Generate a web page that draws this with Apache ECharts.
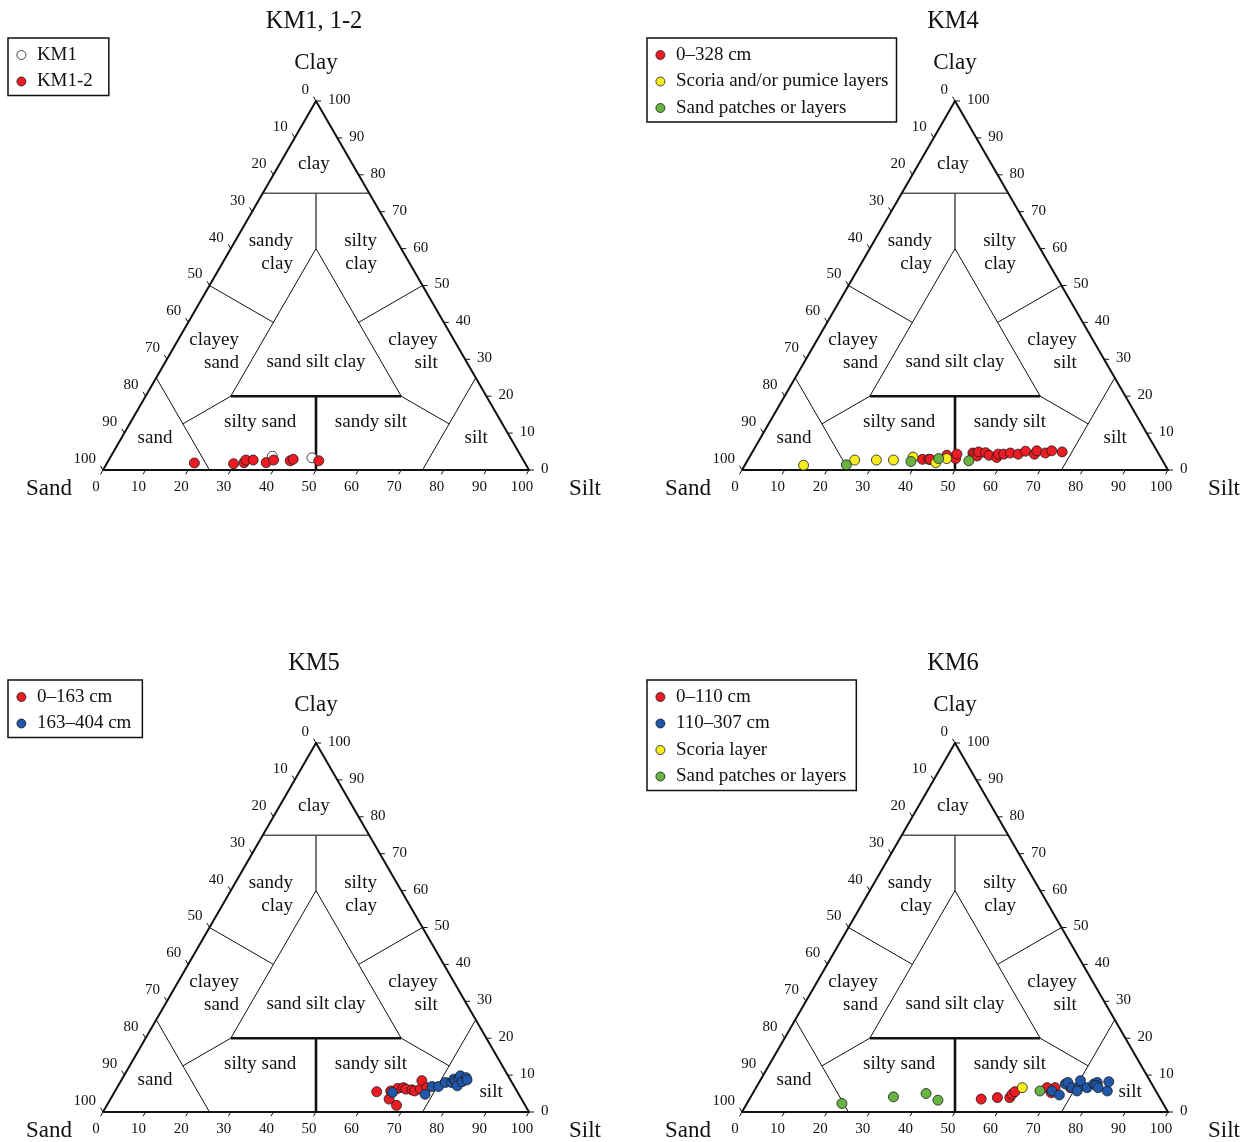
<!DOCTYPE html>
<html>
<head>
<meta charset="utf-8">
<script src="https://cdn.jsdelivr.net/npm/echarts@6/dist/echarts.min.js"></script>
<style>
  html, body { margin: 0; padding: 0; background: #fff; }
  #chart { width: 1252px; height: 1142px; }
</style>
</head>
<body>
<div id="chart"></div>
<script>
// ---- data: sediment texture, each sample as [sand, silt, clay] in percent ----
const panelTitles = ['KM1, 1-2', 'KM4', 'KM5', 'KM6'];
const tickValues = [0, 10, 20, 30, 40, 50, 60, 70, 80, 90, 100];
const vertexNames = ['Sand', 'Silt', 'Clay'];
const regionNames = ['clay', 'sandy\nclay', 'silty\nclay', 'clayey\nsand', 'sand silt clay',
  'clayey\nsilt', 'silty sand', 'sandy silt', 'sand', 'silt'];

const km1 = [[58.4, 37.9, 3.7], [49.3, 47.4, 3.3]];
const km1_2 = [[77.6, 20.5, 1.9], [68.5, 29.8, 1.7], [65.9, 32.1, 2.0], [65.1, 32.2, 2.7],
  [63.4, 33.9, 2.7], [60.7, 37.3, 2.0], [58.6, 38.7, 2.7], [54.8, 42.7, 2.5],
  [53.9, 43.2, 2.9], [48.1, 49.4, 2.5]];

const km4Depth = [[56.2, 40.9, 2.9], [54.7, 42.4, 2.9], [54.4, 42.7, 2.9], [49.9, 46.1, 4.0],
  [48.3, 48.6, 3.1], [47.4, 48.3, 4.3], [43.5, 51.9, 4.6], [43.3, 52.5, 4.2], [42.9, 53.3, 3.8],
  [42.0, 53.1, 4.9], [40.5, 54.8, 4.7], [40.0, 56.0, 4.0], [38.5, 58.1, 3.4], [37.7, 58.0, 4.3],
  [36.4, 59.3, 4.3], [34.7, 60.7, 4.6], [33.0, 62.7, 4.3], [30.9, 64.0, 5.1], [29.2, 66.5, 4.3],
  [28.2, 66.6, 5.2], [26.5, 68.9, 4.6], [24.7, 70.1, 5.2], [22.4, 72.7, 4.9]];
const km4Scoria = [[84.9, 13.8, 1.3], [72.2, 25.1, 2.7], [67.1, 30.2, 2.7], [63.1, 34.2, 2.7],
  [58.1, 38.4, 3.5], [53.5, 44.5, 2.0], [50.4, 46.5, 3.1]];
const km4Sand = [[74.8, 23.8, 1.4], [59.2, 38.5, 2.3], [52.3, 44.6, 3.1], [45.5, 52.0, 2.5]];

const km5Upper = [[33.0, 61.5, 5.5], [31.1, 65.4, 3.5], [30.2, 68.0, 1.8], [29.6, 64.7, 5.7],
  [27.6, 66.0, 6.4], [26.2, 67.2, 6.6], [25.8, 68.0, 6.2], [24.5, 69.5, 6.0], [24.0, 70.3, 5.7],
  [22.4, 71.4, 6.2], [20.9, 70.6, 8.5], [20.7, 72.7, 6.6]];
const km5Lower = [[29.4, 65.3, 5.3], [22.0, 73.2, 4.8], [19.3, 73.8, 6.9], [17.8, 75.3, 6.9],
  [15.6, 76.4, 8.0], [14.2, 77.8, 8.0], [13.2, 77.9, 8.9], [13.1, 78.5, 8.4], [12.0, 79.1, 8.9],
  [13.3, 79.6, 7.1], [11.2, 79.0, 9.8], [11.6, 80.2, 8.2], [10.1, 80.6, 9.3], [10.2, 81.1, 8.7]];

const km6Upper = [[42.1, 54.4, 3.5], [38.1, 58.0, 3.9], [35.2, 60.9, 3.9], [34.2, 61.0, 4.8],
  [33.2, 61.3, 5.5], [25.1, 68.3, 6.6], [24.8, 70.0, 5.2], [23.2, 70.2, 6.6], [19.6, 73.8, 6.6]];
const km6Lower = [[24.4, 69.9, 5.7], [23.2, 72.2, 4.6], [20.3, 72.1, 7.6], [19.5, 72.5, 8.0],
  [19.2, 74.2, 6.6], [17.7, 75.7, 6.6], [16.3, 75.2, 8.5], [18.5, 75.8, 5.7], [15.7, 77.7, 6.6],
  [13.6, 78.8, 7.6], [12.6, 79.4, 8.0], [13.3, 79.5, 7.2], [13.1, 80.3, 6.6], [11.4, 82.9, 5.7],
  [9.8, 82.0, 8.2]];
const km6Scoria = [[30.9, 62.5, 6.6]];
const km6Sand = [[75.4, 22.3, 2.3], [62.4, 33.5, 4.1], [54.3, 40.7, 5.0], [52.4, 44.4, 3.2],
  [27.2, 67.1, 5.7]];

// Shepard (1954) class boundaries, as [sand, silt, clay] end points and a line kind
const boundaries = [
  [[25, 0, 75], [0, 25, 75], 'grey'],
  [[12.5, 12.5, 75], [20, 20, 60], 'grey'],
  [[75, 25, 0], [75, 0, 25], 'thin'],
  [[25, 75, 0], [0, 75, 25], 'thin'],
  [[20, 20, 60], [60, 20, 20], 'thin'],
  [[20, 20, 60], [20, 60, 20], 'thin'],
  [[50, 0, 50], [40, 20, 40], 'thin'],
  [[0, 50, 50], [20, 40, 40], 'thin'],
  [[60, 20, 20], [75, 12.5, 12.5], 'thin'],
  [[20, 60, 20], [12.5, 75, 12.5], 'thin'],
  [[60, 20, 20], [20, 60, 20], 'thick'],
  [[40, 40, 20], [50, 50, 0], 'thick']
];

// ---- layout ----
const FONT = "'Liberation Serif', 'Times New Roman', Times, serif";
const INK = '#111';
const PANEL_OFFSETS = [[0, 0], [639, 0], [0, 642], [639, 642]];
const TRI = { left: 103, top: 101, width: 426, height: 369 };
const COLORS = { red: '#ec1c24', yellow: '#f7ec1f', green: '#69b342', blue: '#2157a8', open: '#ffffff' };
const LINE_KINDS = {
  thin: { stroke: INK, lineWidth: 1 },
  grey: { stroke: '#555', lineWidth: 1.6 },
  thick: { stroke: INK, lineWidth: 2.6 }
};
const KIND_INDEX = ['thin', 'grey', 'thick'];

// region label anchors in plot coordinates [x, y, align]
const regionAnchors = [
  [49.5, 82.9, 'center'], [44.6, 58.9, 'right'], [64.3, 58.9, 'right'], [31.9, 32.1, 'right'],
  [50.0, 29.3, 'center'], [78.6, 32.1, 'right'], [36.9, 13.0, 'center'], [62.9, 13.0, 'center'],
  [12.2, 8.7, 'center'], [87.6, 8.7, 'center']
];
// in the lower panels the "silt" label sits lower and further right, clear of the samples
const siltAnchorLow = [91.1, 5.4, 'center'];

// ternary [sand, silt, clay] -> plot [x, y] with clay on the vertical scale
function tern(p) {
  const total = p[0] + p[1] + p[2];
  const silt = p[1] / total * 100, clay = p[2] / total * 100;
  return [silt + clay / 2, clay];
}

// tick geometry per edge: 0 bottom (silt), 1 right (clay), 2 left (sand)
const TICK_STYLE = [
  { dx: -2.5, dy: 4.3, lx: -7, ly: 17, align: 'center' },
  { dx: 5, dy: 0, lx: 12, ly: -1, align: 'left' },
  { dx: -2.5, dy: -4.3, lx: -7, ly: -11, align: 'right' }
];
const tickData = [];
tickValues.forEach(v => {
  tickData.push([v, 0, 0, v]);
  tickData.push([100 - v / 2, v, 1, v]);
  tickData.push([(100 - v) / 2, 100 - v, 2, v]);
});

function renderTick(params, api) {
  const p = api.coord([api.value(0), api.value(1)]);
  const s = TICK_STYLE[api.value(2)];
  return {
    type: 'group',
    children: [
      { type: 'line', shape: { x1: p[0], y1: p[1], x2: p[0] + s.dx, y2: p[1] + s.dy },
        style: { stroke: INK, lineWidth: 1 } },
      { type: 'text', x: p[0] + s.lx, y: p[1] + s.ly,
        style: { text: String(api.value(3)), fill: INK, fontSize: 15, fontFamily: FONT,
                 align: s.align, verticalAlign: 'middle' } }
    ]
  };
}

const boundaryData = boundaries.map(b => {
  const a = tern(b[0]), c = tern(b[1]);
  return [a[0], a[1], c[0], c[1], KIND_INDEX.indexOf(b[2])];
});
function renderBoundary(params, api) {
  const p1 = api.coord([api.value(0), api.value(1)]);
  const p2 = api.coord([api.value(2), api.value(3)]);
  const k = LINE_KINDS[KIND_INDEX[api.value(4)]];
  return { type: 'line', shape: { x1: p1[0], y1: p1[1], x2: p2[0], y2: p2[1] },
           style: { stroke: k.stroke, lineWidth: k.lineWidth } };
}

const ALIGNS = ['left', 'center', 'right'];
function regionDataFor(panel) {
  return regionAnchors.map((a, i) => {
    const anchor = (i === 9 && panel >= 2) ? siltAnchorLow : a;
    return [anchor[0], anchor[1], i, ALIGNS.indexOf(anchor[2])];
  });
}
function renderRegion(params, api) {
  const i = api.value(2);
  const p = api.coord([api.value(0), api.value(1)]);
  return { type: 'text', x: p[0], y: p[1],
           style: { text: regionNames[i], fill: INK, fontSize: 19, fontFamily: FONT,
                    lineHeight: 23, align: ALIGNS[api.value(3)], verticalAlign: 'middle' } };
}

const panelGroups = [
  [['KM1', km1, COLORS.open], ['KM1-2', km1_2, COLORS.red]],
  [['0–328 cm', km4Depth, COLORS.red], ['Scoria and/or pumice layers', km4Scoria, COLORS.yellow],
   ['Sand patches or layers', km4Sand, COLORS.green]],
  [['0–163 cm', km5Upper, COLORS.red], ['163–404 cm', km5Lower, COLORS.blue]],
  [['0–110 cm', km6Upper, COLORS.red], ['110–307 cm', km6Lower, COLORS.blue],
   ['Scoria layer', km6Scoria, COLORS.yellow], ['Sand patches or layers', km6Sand, COLORS.green]]
];
// draw order inside each panel: red first, then blue, yellow, green
const DRAW_ORDER = [COLORS.open, COLORS.red, COLORS.blue, COLORS.yellow, COLORS.green];

const legendPadding = [[7, 16, 4, 8.5], [7, 8, 4, 8.5], [7, 11, 4, 8.5], [7, 10, 4, 8.5]];

const grids = [], xAxes = [], yAxes = [], series = [], legends = [], graphics = [];

PANEL_OFFSETS.forEach((off, i) => {
  const [dx, dy] = off;
  grids.push({ left: TRI.left + dx, top: TRI.top + dy, width: TRI.width, height: TRI.height });
  xAxes.push({ gridIndex: i, type: 'value', min: 0, max: 100, show: false });
  yAxes.push({ gridIndex: i, type: 'value', min: 0, max: 100, show: false });
  const ax = { xAxisIndex: i, yAxisIndex: i };

  series.push(Object.assign({
    type: 'custom', name: 'boundaries-' + i, renderItem: renderBoundary, data: boundaryData,
    silent: true, clip: false, z: 1
  }, ax));
  series.push(Object.assign({
    type: 'line', name: 'outline-' + i,
    data: [tern([100, 0, 0]), tern([0, 100, 0]), tern([0, 0, 100]), tern([100, 0, 0])],
    symbol: 'none', silent: true, z: 2,
    lineStyle: { color: INK, width: 2, join: 'miter' }
  }, ax));
  series.push(Object.assign({
    type: 'custom', name: 'ticks-' + i, renderItem: renderTick, data: tickData,
    silent: true, clip: false, z: 2
  }, ax));
  series.push(Object.assign({
    type: 'custom', name: 'regions-' + i, renderItem: renderRegion, data: regionDataFor(i),
    silent: true, clip: false, z: 2
  }, ax));

  const groups = panelGroups[i].slice().sort((a, b) => DRAW_ORDER.indexOf(a[2]) - DRAW_ORDER.indexOf(b[2]));
  groups.forEach((g, k) => {
    series.push(Object.assign({
      type: 'scatter', name: g[0], data: g[1].map(tern),
      symbol: 'circle', symbolSize: 10, z: 5 + k, clip: false,
      itemStyle: { color: g[2], borderColor: '#1a1a1a', borderWidth: 0.8, opacity: 1 }
    }, ax));
  });

  legends.push({
    left: 8 + dx, top: 38 + dy, orient: 'vertical', selectedMode: false,
    data: panelGroups[i].map(g => g[0]), icon: 'circle',
    itemWidth: 9, itemHeight: 9, itemGap: 6.5,
    padding: legendPadding[i], borderColor: INK, borderWidth: 1.5, borderRadius: 0,
    itemStyle: { borderColor: '#1a1a1a', borderWidth: 0.8 },
    textStyle: { fontFamily: FONT, fontSize: 19, color: INK, lineHeight: 20, padding: [0, 0, 0, 6] }
  });

  const cx = TRI.left + dx + TRI.width / 2;
  const baseY = TRI.top + dy + TRI.height;
  graphics.push({ type: 'text', x: cx - 2, y: 22 + dy, silent: true,
    style: { text: panelTitles[i], fill: INK, fontSize: 24.5, fontFamily: FONT, align: 'center', verticalAlign: 'middle' } });
  graphics.push({ type: 'text', x: cx, y: TRI.top + dy - 38, silent: true,
    style: { text: vertexNames[2], fill: INK, fontSize: 23, fontFamily: FONT, align: 'center', verticalAlign: 'middle' } });
  graphics.push({ type: 'text', x: TRI.left + dx - 54, y: baseY + 19, silent: true,
    style: { text: vertexNames[0], fill: INK, fontSize: 23, fontFamily: FONT, align: 'center', verticalAlign: 'middle' } });
  graphics.push({ type: 'text', x: TRI.left + dx + TRI.width + 56, y: baseY + 19, silent: true,
    style: { text: vertexNames[1], fill: INK, fontSize: 23, fontFamily: FONT, align: 'center', verticalAlign: 'middle' } });
});

const chart = echarts.init(document.getElementById('chart'), null, { renderer: 'canvas' });
chart.setOption({
  backgroundColor: '#ffffff',
  animation: false,
  grid: grids,
  xAxis: xAxes,
  yAxis: yAxes,
  legend: legends,
  graphic: graphics,
  series: series
});
</script>
</body>
</html>
